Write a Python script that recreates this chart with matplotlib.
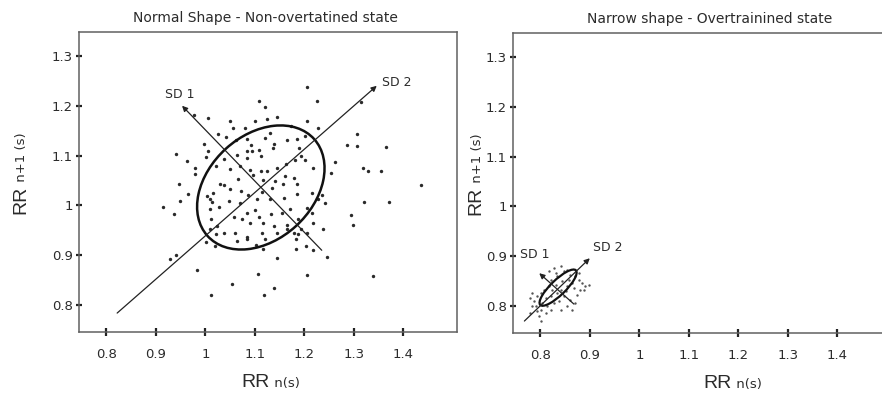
import matplotlib
matplotlib.use("Agg")
import matplotlib.pyplot as plt
from matplotlib.patches import Ellipse

plt.rcParams['font.family'] = ['DejaVu Sans']

# Poincare plot, normal (non-overtrained) recording
normal_rr_n = [
    1.205, 1.225, 1.108, 1.120, 0.978, 1.006, 1.315, 1.307, 1.307, 1.285,
    1.364, 1.262, 1.253, 1.319, 1.329, 1.354, 1.436, 1.320, 1.371, 1.295,
    1.299, 1.238, 1.242, 1.235, 1.203, 1.218, 1.245, 1.183, 1.188, 1.183,
    1.145, 1.117, 1.205, 1.338, 1.107, 1.053, 1.139, 1.012, 1.119, 0.983,
    0.929, 0.941, 0.914, 0.936, 0.949, 0.947, 0.941, 0.962, 0.979, 0.979,
    0.997, 1.006, 0.966, 1.026, 1.050, 1.055, 1.081, 1.101, 1.125, 1.144,
    1.173, 1.205, 1.227, 1.001,
    1.041, 1.061, 1.084, 1.092, 1.121, 1.131, 1.139, 1.164, 1.186, 1.201,
    1.190, 1.137, 1.108, 1.095, 1.084, 1.085, 1.112, 1.063, 1.038, 1.021,
    1.050, 1.070, 1.090, 1.112, 1.124, 1.144, 1.163, 1.181, 1.194, 1.201,
    1.218, 1.178, 1.160, 1.141, 1.117, 1.097, 1.065, 1.037, 1.030, 1.016,
    1.004, 1.010, 1.014, 1.050, 1.072, 1.087, 1.115, 1.135, 1.156, 1.186,
    1.215, 1.228, 1.186, 1.158, 1.131, 1.104, 1.069, 1.047, 1.028, 1.010,
    1.011, 1.024, 1.057, 1.084, 1.100, 1.109, 1.132, 1.154, 1.171, 1.205,
    1.215, 1.218, 1.188, 1.164, 1.139, 1.117, 1.090, 1.074, 1.060, 1.038,
    1.022, 1.084, 1.114, 1.144, 1.164, 1.084, 1.064, 1.010, 1.001, 1.020,
    1.102, 1.121, 1.178, 1.205, 1.194,
]
normal_rr_n1 = [
    1.237, 1.209, 1.209, 1.197, 1.182, 1.175, 1.207, 1.144, 1.120, 1.122,
    1.117, 1.087, 1.065, 1.075, 1.070, 1.070, 1.041, 1.007, 1.007, 0.980,
    0.961, 0.952, 1.004, 1.020, 0.919, 0.910, 0.897, 0.932, 0.942, 0.913,
    0.895, 0.912, 0.860, 0.859, 0.862, 0.843, 0.835, 0.821, 0.821, 0.871,
    0.892, 0.901, 0.997, 0.982, 1.009, 1.043, 1.104, 1.089, 1.075, 1.064,
    1.124, 1.109, 1.023, 1.143, 1.169, 1.155, 1.156, 1.169, 1.173, 1.177,
    1.160, 1.169, 1.156, 1.098,
    1.137, 1.131, 1.133, 1.122, 1.135, 1.145, 1.124, 1.131, 1.133, 1.140,
    1.115, 1.115, 1.112, 1.109, 1.109, 1.095, 1.099, 1.102, 1.093, 1.080,
    1.074, 1.079, 1.071, 1.069, 1.069, 1.075, 1.083, 1.092, 1.099, 1.092,
    1.075, 1.055, 1.059, 1.049, 1.052, 1.062, 1.054, 1.040, 1.042, 1.025,
    1.019, 1.012, 1.007, 1.032, 1.029, 1.021, 1.027, 1.035, 1.042, 1.042,
    1.025, 1.012, 1.022, 1.015, 1.012, 1.012, 1.004, 1.009, 0.997, 0.993,
    0.973, 0.959, 0.977, 0.985, 0.991, 0.977, 0.982, 0.985, 0.992, 0.995,
    0.985, 0.965, 0.972, 0.960, 0.959, 0.964, 0.965, 0.972, 0.945, 0.945,
    0.942, 0.937, 0.945, 0.945, 0.952, 0.932, 0.929, 0.952, 0.927, 0.919,
    0.921, 0.932, 0.945, 0.944, 0.952,
]

# Poincare plot, overtrained recording
narrow_rr_n = [
    0.828, 0.841, 0.848, 0.854, 0.861, 0.871, 0.878, 0.885, 0.891, 0.881,
    0.868, 0.854, 0.834, 0.821, 0.818, 0.807, 0.801, 0.794, 0.787, 0.791,
    0.801, 0.811, 0.797, 0.784, 0.780, 0.821, 0.834, 0.841, 0.848, 0.828,
    0.814, 0.821, 0.861, 0.854, 0.871, 0.888, 0.874, 0.831, 0.844, 0.864,
    0.804, 0.794, 0.811, 0.838, 0.851, 0.858, 0.824, 0.878, 0.898, 0.784,
    0.780, 0.801, 0.864, 0.841, 0.818, 0.831,
]
narrow_rr_n1 = [
    0.877, 0.880, 0.870, 0.873, 0.863, 0.860, 0.853, 0.847, 0.840, 0.833,
    0.837, 0.840, 0.860, 0.853, 0.840, 0.833, 0.827, 0.820, 0.810, 0.800,
    0.793, 0.787, 0.780, 0.827, 0.817, 0.820, 0.827, 0.833, 0.820, 0.807,
    0.800, 0.793, 0.813, 0.800, 0.807, 0.833, 0.823, 0.843, 0.850, 0.847,
    0.807, 0.790, 0.817, 0.810, 0.830, 0.853, 0.833, 0.867, 0.843, 0.800,
    0.787, 0.770, 0.793, 0.793, 0.870, 0.867,
]

# ellipse: centre, full widths along SD2 / SD1, angle in degrees
normal_ellipse = dict(center=(1.112, 1.036), sd2=0.29, sd1=0.21, angle=42)
narrow_ellipse = dict(center=(0.836, 0.837), sd2=0.10, sd1=0.03, angle=44)

# SD axes (tail -> arrow tip)
normal_sd2 = ((0.822, 0.784), (1.346, 1.240))
normal_sd1 = ((1.235, 0.910), (0.953, 1.200))
narrow_sd2 = ((0.768, 0.770), (0.900, 0.896))
narrow_sd1 = ((0.868, 0.804), (0.798, 0.866))

normal_labels = {'SD 1': (0.949, 1.222), 'SD 2': (1.387, 1.246)}
narrow_labels = {'SD 1': (0.788, 0.904), 'SD 2': (0.937, 0.918)}

x_ticks = [0.8, 0.9, 1.0, 1.1, 1.2, 1.3, 1.4]
y_ticks = [0.8, 0.9, 1.0, 1.1, 1.2, 1.3]
tick_labels_x = ['0.8', '0.9', '1', '1.1', '1.2', '1.3', '1.4']
tick_labels_y = ['0.8', '0.9', '1', '1.1', '1.2', '1.3']

TEXT = '#2b2b2b'
AXIS = '#606060'


def style_axes(ax):
    ax.set_xlim(0.745, 1.508)
    ax.set_ylim(0.746, 1.348)
    ax.set_xticks(x_ticks)
    ax.set_xticklabels(tick_labels_x)
    ax.set_yticks(y_ticks)
    ax.set_yticklabels(tick_labels_y)
    for s in ax.spines.values():
        s.set_color(AXIS)
        s.set_linewidth(1.1)
    ax.tick_params(axis='x', direction='inout', length=5.5, width=1.6,
                   color='#222222', labelsize=9.5, labelcolor=TEXT, pad=9)
    ax.tick_params(axis='y', direction='inout', length=5, width=1.6,
                   color='#222222', labelsize=9.5, labelcolor=TEXT, pad=2)


def split_label(ax, x, y, big, small, rotate=False):
    kw = dict(transform=ax.transAxes, color=TEXT, va='baseline',
              clip_on=False)
    if rotate:
        kw.update(rotation=90, rotation_mode='anchor')
    ax.text(x, y, big, ha='right', fontsize=14, family='Liberation Sans',
            **kw)
    ax.text(x, y, ' ' + small, ha='left', fontsize=9.5, **kw)


def draw_panel(ax, xs, ys, ell, sd2, sd1, labels, dot_size, dot_color, lw):
    ax.scatter(xs, ys, s=dot_size, color=dot_color, linewidths=0, zorder=2)
    e = Ellipse(ell['center'], ell['sd2'], ell['sd1'], angle=ell['angle'],
                fill=False, edgecolor='#111111', linewidth=lw, zorder=3)
    ax.add_patch(e)
    for tail, tip in (sd2, sd1):
        ax.annotate('', xy=tip, xytext=tail,
                    arrowprops=dict(arrowstyle='-|>', color='#222222', lw=0.9,
                                    mutation_scale=8, shrinkA=0, shrinkB=0),
                    zorder=4)
    for name, (lx, ly) in labels.items():
        ax.text(lx, ly, name, fontsize=9, color=TEXT, ha='center',
                va='center')


fig = plt.figure(figsize=(8.82, 3.96), dpi=100)
ax1 = fig.add_axes([79 / 882, 64 / 396, 378 / 882, 300 / 396])
ax2 = fig.add_axes([513 / 882, 63 / 396, 378 / 882, 300 / 396])

style_axes(ax1)
style_axes(ax2)

draw_panel(ax1, normal_rr_n, normal_rr_n1, normal_ellipse, normal_sd2,
           normal_sd1, normal_labels, 6, '#2a2a2a', 1.8)
draw_panel(ax2, narrow_rr_n, narrow_rr_n1, narrow_ellipse, narrow_sd2,
           narrow_sd1, narrow_labels, 3, '#555555', 1.6)

ax1.text(0.492, 1.033, 'Normal Shape - Non-overtatined state', fontsize=10,
         color=TEXT, ha='center', va='baseline', transform=ax1.transAxes)
ax2.text(0.519, 1.033, 'Narrow shape - Overtrainined state', fontsize=10,
         color=TEXT, ha='center', va='baseline', transform=ax2.transAxes)

split_label(ax1, 0.505, -0.183, 'RR', 'n(s)')
split_label(ax2, 0.579, -0.183, 'RR', 'n(s)')
split_label(ax1, -0.143, 0.487, 'RR', 'n+1 (s)', rotate=True)
split_label(ax2, -0.085, 0.487, 'RR', 'n+1 (s)', rotate=True)

fig.savefig('out.png', dpi=100)
